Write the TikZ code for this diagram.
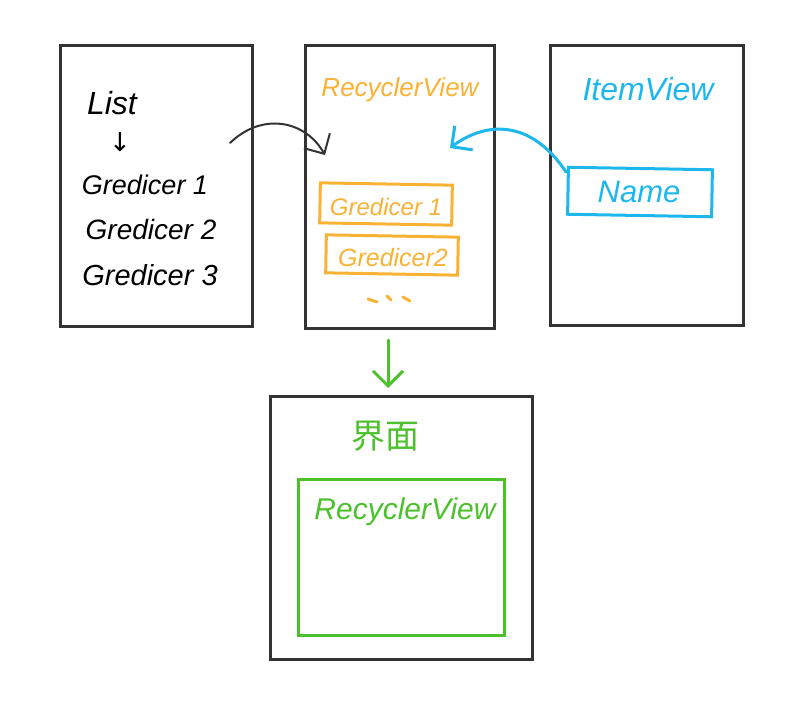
\documentclass[tikz,border=0pt]{standalone}
\usepackage{fontspec}
\setmainfont{Liberation Sans}
\newfontfamily\cjk{Noto Sans CJK SC}
\usetikzlibrary{arrows.meta}
\definecolor{frame}{HTML}{333333}
\definecolor{ora}{HTML}{F9B234}
\definecolor{cya}{HTML}{1DB7EE}
\definecolor{grn}{HTML}{4CC12C}
\newcommand{\fs}[1]{\fontsize{#1}{#1}\selectfont}
\begin{document}
\begin{tikzpicture}[x=1pt,y=-1pt,
  panel/.style={draw=frame, line width=3pt, rectangle, inner sep=0pt},
  hand/.style={font=\fs{22}\itshape, inner sep=0pt},
  obox/.style={draw=ora, line width=3pt, rectangle, inner sep=0pt},
  barb/.style={-{Straight Barb[length=15pt,width=30pt]}, line cap=round}]
\useasboundingbox (0,0) rectangle (810,717);
% panels
\node[panel, minimum width=192pt, minimum height=280pt] (list) at (156,186) {};
\node[panel, minimum width=189pt, minimum height=282pt] (rv) at (399.5,187) {};
\node[panel, minimum width=193pt, minimum height=279pt] (item) at (646.5,185.5) {};
\node[panel, minimum width=262pt, minimum height=263pt] (ui) at (401,527.5) {};
% list panel
\node[hand, font=\fs{32}\itshape] (lst) at (112,103) {List};
\node[inner sep=0pt, font=\fontspec{DejaVu Sans}\fs{26}] (down) at (120,142) {↓};
\node[hand, font=\fs{27}\itshape] (g1) at (145,185) {Gredicer 1};
\node[hand, font=\fs{28}\itshape] (g2) at (151,229) {Gredicer 2};
\node[hand, font=\fs{29}\itshape] (g3) at (150,275) {Gredicer 3};
% recycler panel
\node[hand, text=ora, font=\fs{26}\itshape] (rvt) at (400,90) {RecyclerView};
\node[obox, minimum width=132pt, minimum height=40pt, rotate=-1] (o1) at (386,204) {};
\node[hand, text=ora, font=\fs{24}\itshape] (o1t) at (386,207) {Gredicer 1};
\node[obox, minimum width=132pt, minimum height=38pt, rotate=-1] (o2) at (392,255) {};
\node[hand, text=ora, font=\fs{25}\itshape] (o2t) at (393,258) {Gredicer2};
\draw[ora, line width=3pt, line cap=round] (368,299) -- (377,302) (387,296) -- (391,300) (403,297) -- (410,301);
% item panel
\node[hand, text=cya, font=\fs{32}\itshape] (ivt) at (648,89) {ItemView};
\node[draw=cya, line width=3pt, minimum width=144pt, minimum height=47pt, rotate=-1] (nb) at (640,192) {};
\node[hand, text=cya, font=\fs{31}\itshape] (nbt) at (639,192) {Name};
% ui panel
\node[text=grn, font=\cjk\fs{34}, inner sep=0pt] (jm) at (385,436) {界面};
\node[draw=grn, line width=3pt, minimum width=206pt, minimum height=156pt] (grv) at (401,557) {};
\node[hand, text=grn, font=\fs{30}\itshape] (grvt) at (405,512) {RecyclerView};
% connectors
\coordinate (a1) at (230,143);
\coordinate (a2) at (325,155);
\draw[barb, frame, line width=2pt] (a1) .. controls (262,112) and (305,120) .. (a2);
\coordinate (c1) at (566,172);
\coordinate (c2) at (450,148);
\draw[barb, cya, line width=3pt] (c1) .. controls (530,118) and (485,122) .. (c2);
\coordinate (d1) at (388,340);
\coordinate (d2) at (388,388);
\draw[barb, grn, line width=3pt] (d1) -- (d2);
\end{tikzpicture}
\end{document}
